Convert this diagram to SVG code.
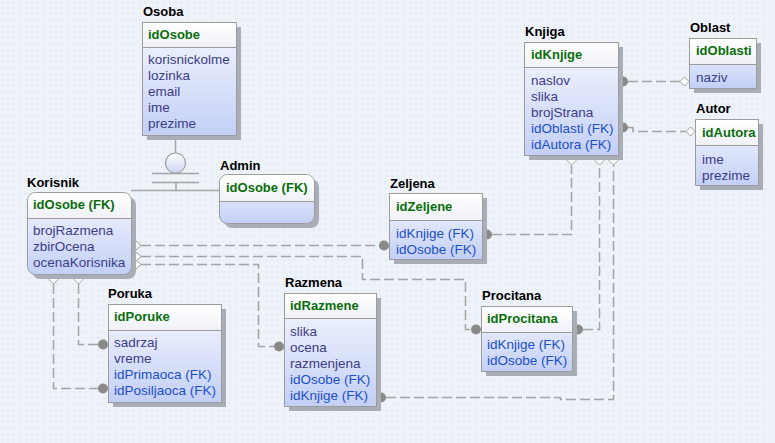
<svg xmlns="http://www.w3.org/2000/svg" width="775" height="443" viewBox="0 0 775 443">
<style>
.t{font-family:"Liberation Sans",Arial,sans-serif;font-size:13px;font-weight:bold;fill:#000}
.h{font-family:"Liberation Sans",Arial,sans-serif;font-size:13px;font-weight:bold;fill:#0a6e0a}
.a{font-family:"Liberation Sans",Arial,sans-serif;font-size:13.5px;fill:#3c3c88}
.f{font-family:"Liberation Sans",Arial,sans-serif;font-size:13.5px;fill:#2050c8}
.sh{fill:#a9adb5}
.bd{fill:url(#body);stroke:#9c9c9c;stroke-width:1}
.hd{fill:url(#head)}
.dv{stroke:#9c9c9c;stroke-width:1}
.c{fill:none;stroke:#a4a4a4;stroke-width:1.5;stroke-dasharray:10 4}
.s{fill:none;stroke:#a4a4a4;stroke-width:1.5}
.dot{fill:#8a8a8a}
.dm{fill:#fff;stroke:#a0a0a0;stroke-width:1}
</style>
<defs>
<linearGradient id="body" x1="0" y1="0" x2="0" y2="1">
<stop offset="0" stop-color="#f6f8fe"/>
<stop offset="1" stop-color="#c3cff6"/>
</linearGradient>
<linearGradient id="head" x1="0" y1="0" x2="0" y2="1">
<stop offset="0" stop-color="#ffffff"/>
<stop offset="1" stop-color="#f0f2f8"/>
</linearGradient>
<linearGradient id="circ" x1="0" y1="0" x2="0" y2="1">
<stop offset="0" stop-color="#ffffff"/>
<stop offset="1" stop-color="#cdd6f2"/>
</linearGradient>
<pattern id="bg" width="6" height="6" patternUnits="userSpaceOnUse">
<rect width="6" height="6" fill="#eef3f9"/>
<path d="M1,1 l2,2 M3,1 l-2,2" stroke="#dfe5ee" stroke-width="0.6"/>
</pattern>
</defs>
<rect width="775" height="443" fill="url(#bg)"/>

<g id="connectors">
<!-- inheritance -->
<line class="s" x1="175.5" y1="135" x2="175.5" y2="153"/>
<circle cx="175.5" cy="163" r="10" fill="url(#circ)" stroke="#a0a0a0" stroke-width="1.2"/>
<line class="s" x1="152" y1="173.5" x2="199" y2="173.5"/>
<line class="s" x1="152" y1="182.5" x2="199" y2="182.5"/>
<line class="s" x1="176" y1="182.5" x2="176" y2="190.5"/>
<line class="s" x1="131" y1="190.5" x2="219" y2="190.5"/>

<!-- Korisnik -> Zeljena -->
<path class="c" d="M141,245.5 H379"/>
<polygon class="dm" points="131,245.5 136,241 141,245.5 136,250"/>
<circle class="dot" cx="384" cy="245.5" r="5"/>
<!-- Korisnik -> Procitana -->
<path class="c" d="M141,256.5 H362.5 V279.5 H465.5 V329.5 H471"/>
<polygon class="dm" points="131,256.5 136,252 141,256.5 136,261"/>
<circle class="dot" cx="476" cy="329.5" r="5"/>
<!-- Korisnik -> Razmena -->
<path class="c" d="M141,264.5 H258.5 V346.5 H274"/>
<polygon class="dm" points="131,264.5 136,260 141,264.5 136,269"/>
<circle class="dot" cx="279" cy="346.5" r="5"/>
<!-- Korisnik -> Poruka -->
<path class="c" d="M53.5,284 V388.5 H98"/>
<polygon class="dm" points="53.5,275 58,279.5 53.5,284 49,279.5"/>
<circle class="dot" cx="103" cy="388.5" r="5"/>
<path class="c" d="M78.5,284 V344.5 H98"/>
<polygon class="dm" points="78.5,275 83,279.5 78.5,284 74,279.5"/>
<circle class="dot" cx="103" cy="344.5" r="5"/>
<!-- Razmena -> Knjiga -->
<path class="c" d="M386,397.5 H560.5 V399.5 H613.5 V165"/>
<circle class="dot" cx="381" cy="397.5" r="5"/>
<polygon class="dm" points="613.5,156 618,160.5 613.5,165 609,160.5"/>
<!-- Zeljena -> Knjiga -->
<path class="c" d="M492,234.5 H571.5 V165"/>
<circle class="dot" cx="487" cy="234.5" r="5"/>
<polygon class="dm" points="571.5,156 576,160.5 571.5,165 567,160.5"/>
<!-- Procitana -> Knjiga -->
<path class="c" d="M583,329.5 H599.5 V165"/>
<circle class="dot" cx="578" cy="329.5" r="5"/>
<polygon class="dm" points="599.5,156 604,160.5 599.5,165 595,160.5"/>
<!-- Knjiga -> Oblast -->
<path class="c" d="M628,81.5 H680"/>
<circle class="dot" cx="623" cy="81.5" r="5"/>
<polygon class="dm" points="680,81.5 684.5,77 689,81.5 684.5,86"/>
<!-- Knjiga -> Autor -->
<path class="c" d="M628,127.5 H633 V131.5 H686"/>
<circle class="dot" cx="623" cy="127.5" r="5"/>
<polygon class="dm" points="686,131.5 690.5,127 695,131.5 690.5,136"/>
</g>

<g id="Osoba">
<text class="t" x="143" y="16">Osoba</text>
<rect class="sh" x="147" y="27" width="94" height="113"/>
<rect class="bd" x="142.5" y="22.5" width="94" height="113"/>
<rect class="hd" x="143" y="23" width="93" height="24"/>
<line class="dv" x1="142.5" y1="47.5" x2="236.5" y2="47.5"/>
<text class="h" x="148" y="39">idOsobe</text>
<text class="a" x="148" y="64">korisnickolme</text>
<text class="a" x="148" y="80">lozinka</text>
<text class="a" x="148" y="96">email</text>
<text class="a" x="148" y="112">ime</text>
<text class="a" x="148" y="128">prezime</text>
</g>

<g id="Korisnik">
<text class="t" x="27" y="187">Korisnik</text>
<rect class="sh" x="32" y="197" width="104" height="82" rx="8"/>
<rect class="bd" x="27.5" y="192.5" width="104" height="82" rx="8"/>
<path class="hd" d="M28,218 V201 a8,8 0 0 1 8,-8 H123 a8,8 0 0 1 8,8 V218 Z"/>
<line class="dv" x1="27.5" y1="218.5" x2="131.5" y2="218.5"/>
<text class="h" x="33" y="209">idOsobe (FK)</text>
<text class="a" x="33" y="235">brojRazmena</text>
<text class="a" x="33" y="251">zbirOcena</text>
<text class="a" x="33" y="267">ocenaKorisnika</text>
</g>

<g id="Admin">
<text class="t" x="220" y="170">Admin</text>
<rect class="sh" x="224" y="179" width="95" height="49" rx="8"/>
<rect class="bd" x="219.5" y="174.5" width="95" height="49" rx="8"/>
<path class="hd" d="M220,201 V183 a8,8 0 0 1 8,-8 H306 a8,8 0 0 1 8,8 V201 Z"/>
<line class="dv" x1="219.5" y1="201.5" x2="314.5" y2="201.5"/>
<text class="h" x="226" y="192">idOsobe (FK)</text>
</g>

<g id="Poruka">
<text class="t" x="108" y="298">Poruka</text>
<rect class="sh" x="113" y="309" width="113" height="98"/>
<rect class="bd" x="108.5" y="304.5" width="113" height="98"/>
<rect class="hd" x="109" y="305" width="112" height="25"/>
<line class="dv" x1="108.5" y1="330.5" x2="221.5" y2="330.5"/>
<text class="h" x="114" y="321">idPoruke</text>
<text class="a" x="114" y="347">sadrzaj</text>
<text class="a" x="114" y="363">vreme</text>
<text class="f" x="114" y="379">idPrimaoca (FK)</text>
<text class="f" x="114" y="395">idPosiljaoca (FK)</text>
</g>

<g id="Razmena">
<text class="t" x="285" y="287">Razmena</text>
<rect class="sh" x="289" y="298" width="92" height="113"/>
<rect class="bd" x="284.5" y="293.5" width="92" height="113"/>
<rect class="hd" x="285" y="294" width="91" height="24"/>
<line class="dv" x1="284.5" y1="318.5" x2="376.5" y2="318.5"/>
<text class="h" x="290" y="310">idRazmene</text>
<text class="a" x="290" y="336">slika</text>
<text class="a" x="290" y="352">ocena</text>
<text class="a" x="290" y="368">razmenjena</text>
<text class="f" x="290" y="384">idOsobe (FK)</text>
<text class="f" x="290" y="400">idKnjige (FK)</text>
</g>

<g id="Zeljena">
<text class="t" x="390" y="188">Zeljena</text>
<rect class="sh" x="394" y="198" width="93" height="66"/>
<rect class="bd" x="389.5" y="193.5" width="93" height="66"/>
<rect class="hd" x="390" y="194" width="92" height="26"/>
<line class="dv" x1="389.5" y1="220.5" x2="482.5" y2="220.5"/>
<text class="h" x="396" y="211">idZeljene</text>
<text class="f" x="396" y="238">idKnjige (FK)</text>
<text class="f" x="396" y="254">idOsobe (FK)</text>
</g>

<g id="Procitana">
<text class="t" x="482" y="300">Procitana</text>
<rect class="sh" x="486" y="311" width="91" height="65"/>
<rect class="bd" x="481.5" y="306.5" width="91" height="65"/>
<rect class="hd" x="482" y="307" width="90" height="25"/>
<line class="dv" x1="481.5" y1="332.5" x2="572.5" y2="332.5"/>
<text class="h" x="487" y="323">idProcitana</text>
<text class="f" x="487" y="349">idKnjige (FK)</text>
<text class="f" x="487" y="365">idOsobe (FK)</text>
</g>

<g id="Knjiga">
<text class="t" x="525" y="36">Knjiga</text>
<rect class="sh" x="529" y="47" width="94" height="113"/>
<rect class="bd" x="524.5" y="42.5" width="94" height="113"/>
<rect class="hd" x="525" y="43" width="93" height="24"/>
<line class="dv" x1="524.5" y1="67.5" x2="618.5" y2="67.5"/>
<text class="h" x="531" y="59">idKnjige</text>
<text class="a" x="531" y="85">naslov</text>
<text class="a" x="531" y="101">slika</text>
<text class="a" x="531" y="117">brojStrana</text>
<text class="f" x="531" y="133">idOblasti (FK)</text>
<text class="f" x="531" y="149">idAutora (FK)</text>
</g>

<g id="Oblast">
<text class="t" x="690" y="32">Oblast</text>
<rect class="sh" x="694" y="43" width="67" height="50"/>
<rect class="bd" x="689.5" y="38.5" width="67" height="50"/>
<rect class="hd" x="690" y="39" width="66" height="25"/>
<line class="dv" x1="689.5" y1="64.5" x2="756.5" y2="64.5"/>
<text class="h" x="696" y="55">idOblasti</text>
<text class="a" x="696" y="82">naziv</text>
</g>

<g id="Autor">
<text class="t" x="696" y="113">Autor</text>
<rect class="sh" x="700" y="124" width="63" height="66"/>
<rect class="bd" x="695.5" y="119.5" width="63" height="66"/>
<rect class="hd" x="696" y="120" width="62" height="25"/>
<line class="dv" x1="695.5" y1="145.5" x2="758.5" y2="145.5"/>
<text class="h" x="702" y="137">idAutora</text>
<text class="a" x="702" y="164">ime</text>
<text class="a" x="702" y="180">prezime</text>
</g>
</svg>
